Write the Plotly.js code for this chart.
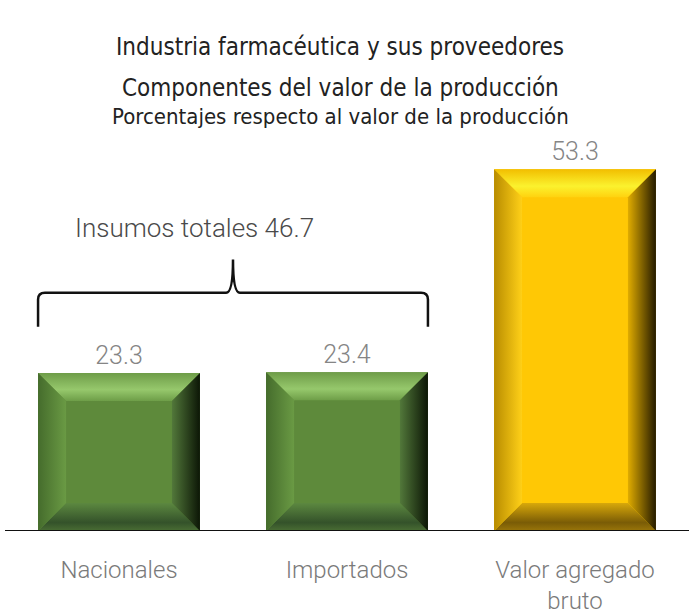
<!DOCTYPE html>
<html>
<head>
<meta charset="utf-8">
<script src="https://cdn.plot.ly/plotly-3.0.1.min.js"></script>
<style>html,body{margin:0;padding:0;background:#fff;}#chart{width:689px;height:616px;}</style>
</head>
<body>
<div id="chart"></div>
<script>
// ---- data ----
const categories = ["Nacionales", "Importados", "Valor agregado<br>bruto"];
const values = [23.3, 23.4, 53.3];
const barGroups = ["insumo", "insumo", "valor"];
const titleLines = [
  "Industria farmacéutica y sus proveedores",
  "Componentes del valor de la producción",
  "Porcentajes respecto al valor de la producción"
];
const braceLabel = "Insumos totales";

// ---- styling ----
const condensed = "'Liberation Sans Narrow', 'DejaVu Sans Condensed', 'Open Sans', sans-serif";
const light = "Roboto, 'Open Sans', sans-serif";
const palette = {
  insumo: {face:"#5e8a3b", top:["#6e9e48","#96c86c","#6e9c48"], left:["#456c2c","#6a9a44"], right:["#52783a","#0c1606"], bottom:["#4a6e34","#34522a","#5c8840"]},
  valor:  {face:"#ffc805", top:["#ffd20f","#fbf22e","#f2be00"], left:["#b88c00","#ffd018"], right:["#e0ac00","#241a00"], bottom:["#9a760a","#7a5c06","#d8a80a"]}
};

const barWidth = 0.71;
const yMax = 56;
const W = 689, H = 616;
const margin = {l:5, r:0, t:151, b:85};
const plotW = W - margin.l - margin.r, plotH = H - margin.t - margin.b;
const xUnitPx = plotW / 3, yUnitPx = plotH / yMax;
const bevelPx = 28;
const bx = bevelPx / xUnitPx, by = bevelPx / yUnitPx;

const xs = categories.map((_, i) => i);
const traces = [];

traces.push({
  type: "bar", x: xs, y: values, width: barWidth,
  marker: {color: barGroups.map(g => palette[g].face), line:{width:0}},
  text: values.map(v => v.toFixed(1)), textposition: "outside",
  textfont: {family: light, size: 25, color: "#858585", weight: 300},
  cliponaxis: false, hoverinfo: "skip"
});

function poly(px, py, grad) {
  return {type:"scatter", mode:"lines", x: px.concat([px[0]]), y: py.concat([py[0]]),
    fill:"toself", line:{width:0}, fillgradient: grad, hoverinfo:"skip", showlegend:false};
}

xs.forEach((c, i) => {
  const h = values[i], w = barWidth/2, p = palette[barGroups[i]];
  // top bevel
  traces.push(poly([c-w, c+w, c+w-bx, c-w+bx], [h, h, h-by, h-by],
    {type:"vertical", colorscale:[[0,p.top[0]],[0.4,p.top[1]],[1,p.top[2]]]}));
  // bottom bevel
  traces.push(poly([c-w, c+w, c+w-bx, c-w+bx], [0, 0, by, by],
    {type:"vertical", colorscale:[[0,p.bottom[0]],[0.3,p.bottom[1]],[1,p.bottom[2]]]}));
  // left bevel
  traces.push(poly([c-w, c-w, c-w+bx, c-w+bx], [0, h, h-by, by],
    {type:"horizontal", colorscale:[[0,p.left[0]],[1,p.left[1]]]}));
  // right bevel
  traces.push(poly([c+w-bx, c+w-bx, c+w, c+w], [by, h-by, h, 0],
    {type:"horizontal", colorscale:[[0,p.right[0]],[1,p.right[1]]]}));
});

// brace over the two input bars
const bL = xs[0] - barWidth/2, bR = xs[1] + barWidth/2, bM = (bL + bR)/2;
const braceBase = Math.max(values[0], values[1]) + 6.7;
const braceY = braceBase + 5.0, braceTip = braceY + 4.9;
const rx = 0.03, ry = 1.0;
const bracePath = `M ${bL},${braceBase} L ${bL},${braceY-ry} Q ${bL},${braceY} ${bL+rx},${braceY} ` +
  `L ${bM-rx},${braceY} Q ${bM},${braceY} ${bM},${braceTip} Q ${bM},${braceY} ${bM+rx},${braceY} ` +
  `L ${bR-rx},${braceY} Q ${bR},${braceY} ${bR},${braceY-ry} L ${bR},${braceBase}`;

const total = values[0] + values[1];

const annotations = [
  {text: titleLines[0], x: 0.49, y: 1 + (margin.t - 47)/plotH},
  {text: titleLines[1], x: 0.49, y: 1 + (margin.t - 88)/plotH},
  {text: titleLines[2], x: 0.49, y: 1 + (margin.t - 116)/plotH, size: 22}
].map(a => ({xref:"paper", yref:"paper", x:a.x, y:a.y, text:a.text, showarrow:false,
  xanchor:"center", yanchor:"middle", font:{family:condensed, size:a.size||24, color:"#222"}}));

annotations.push({xref:"x", yref:"y", x: 0.333, y: braceTip + 4.6, text: braceLabel + " " + total.toFixed(1),
  showarrow:false, xanchor:"center", yanchor:"middle",
  font:{family:light, size:26, color:"#4a4a4a", weight:300}});

const layout = {
  width: W, height: H, margin: margin,
  paper_bgcolor:"#fff", plot_bgcolor:"#fff", showlegend:false,
  xaxis: {type:"linear", range:[-0.5, 2.5], tickvals: xs, ticktext: categories,
    showgrid:false, zeroline:false, showline:false, ticks:"outside", ticklen:17, tickcolor:"rgba(0,0,0,0)",
    tickfont:{family:light, size:24, color:"#7a7a7a", weight:300}, fixedrange:true},
  yaxis: {range:[0, yMax], visible:false, showgrid:false, zeroline:false, fixedrange:true},
  shapes: [
    {type:"line", xref:"paper", yref:"y", x0:0, x1:1, y0:0, y1:0, line:{color:"#111", width:2}, layer:"above"},
    {type:"path", xref:"x", yref:"y", path: bracePath, line:{color:"#111", width:2.5}}
  ],
  annotations: annotations
};

Plotly.newPlot("chart", traces, layout, {displayModeBar:false, staticPlot:true});
</script>
</body>
</html>
